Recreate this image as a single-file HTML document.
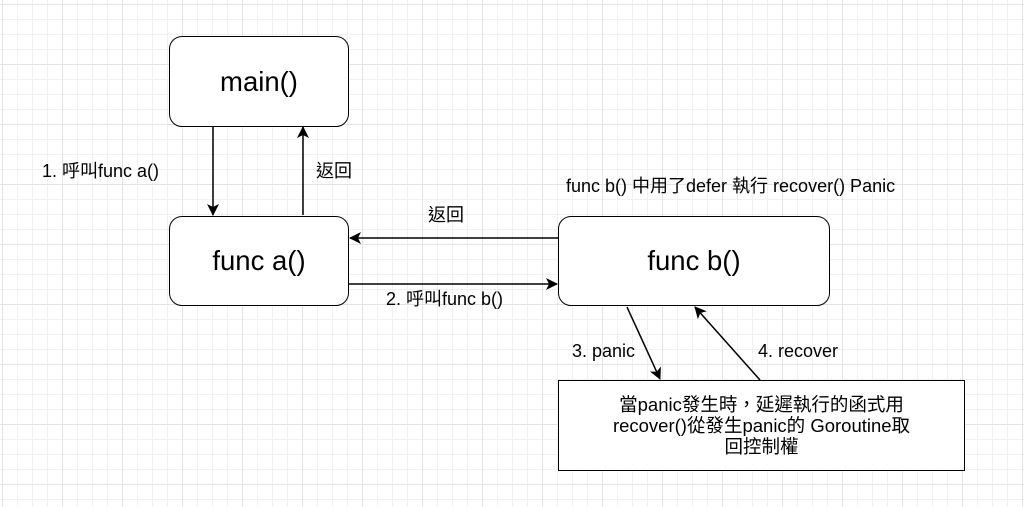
<!DOCTYPE html>
<html><head><meta charset="utf-8"><style>
body{margin:0;width:1024px;height:507px;overflow:hidden;background:#fff;
background-image:linear-gradient(#e3e3e3 1px,transparent 1px),linear-gradient(90deg,#e3e3e3 1px,transparent 1px),linear-gradient(#f1f1f1 1px,transparent 1px),linear-gradient(90deg,#f1f1f1 1px,transparent 1px);
background-size:60px 60px,60px 60px,15px 15px,15px 15px;background-position:0 4px,2px 0,0 4px,2px 0;
font-family:"Liberation Sans","Noto Sans CJK TC",sans-serif;position:relative}
.b{position:absolute;border:1.5px solid #000;border-radius:13px;background:#fff;display:flex;align-items:center;justify-content:center;font-size:27.5px;box-sizing:border-box}
.t{position:absolute;font-size:18px;white-space:nowrap;line-height:1}
</style></head><body>
<div class="b" style="left:169px;top:36px;width:180px;height:91px">main()</div>
<div class="b" style="left:169px;top:216px;width:180px;height:90px">func a()</div>
<div class="b" style="left:558px;top:216px;width:272px;height:90px">func b()</div>
<div class="b" style="left:558px;top:380px;width:407px;height:91px;border-radius:0;font-size:18.5px;text-align:center;line-height:21px">當panic發生時，延遲執行的函式用<br>recover()從發生panic的 Goroutine取<br>回控制權</div>
<svg width="1024" height="507" style="position:absolute;left:0;top:0">
<defs><marker id="a" markerWidth="12" markerHeight="12" refX="11" refY="6" orient="auto" markerUnits="userSpaceOnUse"><path d="M0,0 L12,6 L0,12 L3,6Z" fill="#000"/></marker></defs>
<g stroke="#000" stroke-width="1.5" fill="none" marker-end="url(#a)">
<line x1="213" y1="127" x2="213" y2="215"/>
<line x1="303" y1="215" x2="303" y2="127"/>
<line x1="558" y1="238" x2="350" y2="238"/>
<line x1="349" y1="284" x2="557" y2="284"/>
<line x1="627" y1="307" x2="660" y2="379"/>
<line x1="760" y1="380" x2="695" y2="307"/>
</g></svg>
<div class="t" style="left:42px;top:162px">1. 呼叫func a()</div>
<div class="t" style="left:316px;top:162px">返回</div>
<div class="t" style="left:428px;top:206px">返回</div>
<div class="t" style="left:386px;top:290px">2. 呼叫func b()</div>
<div class="t" style="left:566px;top:177px">func b() 中用了defer 執行 recover() Panic</div>
<div class="t" style="left:572px;top:342px">3. panic</div>
<div class="t" style="left:758px;top:342px">4. recover</div>
</body></html>
